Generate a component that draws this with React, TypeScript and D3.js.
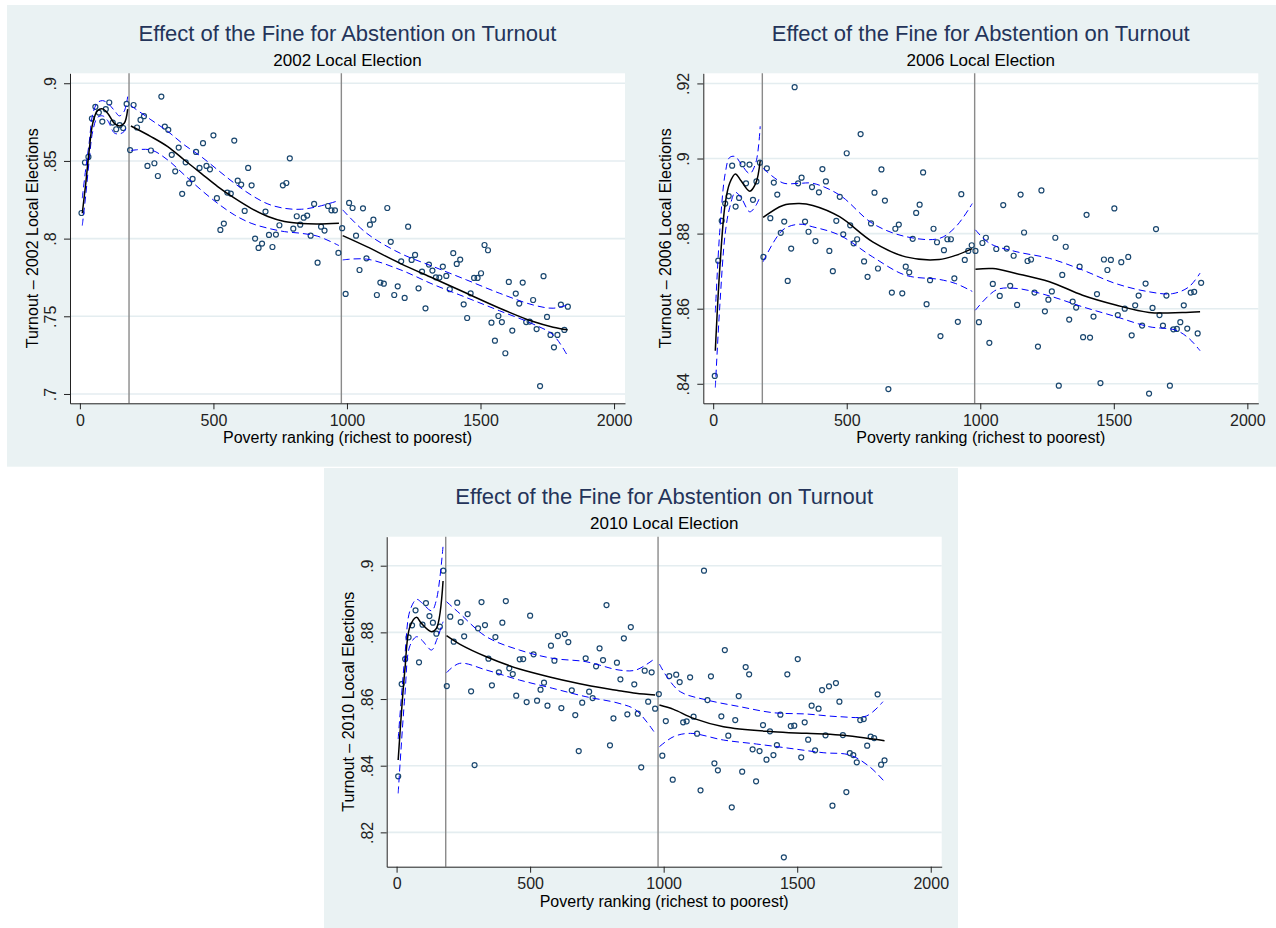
import { useEffect, useRef } from 'react';
import * as d3 from 'd3';

type Pt = [number, number];

const FONT = '"Liberation Sans", Arial, Helvetica, sans-serif';

// poverty-ranking bin centres (shared by the three elections)
const bins = [
  6, 19, 32, 45, 58, 71, 84, 97, 110, 123, 136, 149, 162, 175,
  188, 201, 214, 227, 240, 253, 266, 279, 292, 305, 318, 331, 344, 357, 370, 383,
  396, 409, 422, 435, 448, 461, 474, 487, 500, 513, 526, 539, 552, 565, 578, 591,
  604, 617, 630, 643, 656, 669, 682, 695, 708, 721, 734, 747, 760, 773, 786, 799,
  812, 825, 838, 851, 864, 877, 890, 903, 916, 929, 942, 955, 968,
  982, 995, 1008, 1021, 1034, 1047, 1060, 1073, 1086, 1099, 1112, 1125, 1138, 1151,
  1164, 1177, 1190, 1203, 1216, 1229, 1242, 1255, 1268, 1281, 1294, 1307, 1320, 1333,
  1346, 1359, 1372, 1385, 1398, 1411, 1424, 1437, 1450, 1463, 1476, 1489, 1502, 1515,
  1528, 1541, 1554, 1567, 1580, 1593, 1606, 1619, 1632, 1645, 1658, 1671, 1684, 1697,
  1710, 1723, 1736, 1749, 1762, 1775, 1788, 1801, 1814, 1827
];

const cutoffs = [184, 979];
const xTicks = [0, 500, 1000, 1500, 2000];

const turnout2002 = [
  .8165, .849, .8526, .8773, .8848, .8811, .8753, .8833, .8876, .8747, .8704, .873, .8712, .8867,
  .857, .886, .8715, .8764, .8788, .8468, .8567, .8485, .8403, .8914, .8721, .870, .8539, .8433,
  .8586, .8288, .8491, .8356, .8384, .8558, .8455, .8614, .8468, .8446, .8665, .826, .8056, .8097,
  .8296, .829, .8631, .8373, .8348, .8178, .8455, .8343, .800, .794, .7968, .8174, .8024, .7946,
  .8026, .8086, .8343, .8358, .8517, .8064, .8144, .809, .8135, .8148, .8019, .8223, .7845, .8077,
  .8052, .821, .8182, .8182, .7908,
  .8067, .7644, .823, .8197, .8019, .7798, .8195, .7873, .809, .8122, .7637, .7717, .771, .8197,
  .7979, .7637, .7693, .7854, .7618, .8077, .7863, .7895, .768, .7788, .7551, .7833, .7794, .7751,
  .7749, .782, .776, .7674, .7906, .7837, .7865, .7577, .7489, .7648, .7747, .7747, .7777, .7959,
  .7925, .7459, .7343, .7502, .7463, .7262, .7721, .7408, .7646, .7582, .7717, .7463, .7466, .7605,
  .7418, .7051, .7758, .7496, .738, .730, .738, .7575, .7412, .7562
];

const turnout2006 = [
  .8421, .8728, .8834, .888, .89, .8981, .8872, .8895, .8985, .8934, .8984, .889, .8939, .8989,
  .8738, .8974, .8841, .8936, .8904, .8802, .8832, .8674, .876, .919, .8934, .8949, .8832, .8805,
  .8924, .878, .891, .8972, .8939, .8754, .870, .8834, .8898, .8798, .9014, .8822, .8774, .8785,
  .9065, .8726, .8685, .8827, .8909, .8707, .8971, .8888, .8386, .8643, .8813, .8824, .8641, .8712,
  .8697, .8786, .8855, .8877, .8963, .8612, .8676, .8813, .8777, .8527, .8756, .8785, .8785, .8681,
  .8565, .8905, .873, .8754, .8769,
  .8754, .8564, .8775, .8789, .8509, .8666, .8759, .8634, .8876, .876, .8661, .8741, .861, .8904,
  .8803, .8727, .8731, .8643, .8499, .8915, .8593, .8624, .8646, .8789, .8395, .869, .8765, .8571,
  .8619, .8603, .8712, .8524, .885, .8523, .8579, .8639, .8402, .8731, .8703, .873, .8867, .8583,
  .8724, .860, .8738, .8529, .8609, .8635, .8555, .8667, .8374, .8602, .8812, .8583, .8555, .8635,
  .8395, .8545, .8546, .8564, .8609, .8547, .8643, .8645, .8534, .8669
];

const turnout2010 = [
  .8368, .8645, .872, .8785, .8821, .8866, .871, .8823, .8888, .8849, .8829, .8796, .8817, .8985,
  .8639, .8847, .8772, .8889, .8831, .8788, .8855, .8623, .8402, .8812, .8891, .8822, .8721, .8641,
  .8786, .868, .8829, .8894, .8692, .8675, .861, .8719, .872, .8591, .885, .8734, .8595, .8628,
  .8649, .858, .876, .8715, .8789, .8573, .8795, .8771, .8626, .8552, .8444, .8589, .8722, .8622,
  .8603, .8698, .8752, .8717, .8882, .8461, .8542, .8709, .8659, .8782, .8554, .8816, .8644, .8556,
  .8395, .8685, .8592, .868, .8571,
  .8615, .843, .8534, .8669, .8358, .8673, .8651, .853, .8533, .8665, .8547, .8496, .8326, .8985,
  .8597, .8668, .8407, .8386, .8548, .8747, .849, .8275, .8537, .8609, .8382, .8696, .8674, .8449,
  .8353, .8444, .8522, .8418, .8503, .8432, .8462, .8553, .8125, .8674, .8519, .852, .872, .8425,
  .853, .8478, .858, .8446, .8571, .8627, .8491, .8638, .828, .8648, .8592, .8492, .8321, .8438,
  .8432, .841, .8537, .854, .846, .8487, .8483, .8614, .8403, .8416
];

// local polynomial fits and 95% bands, one piece per side of each cutoff
const fit2002Left: Pt[] = [[9, .8163], [22, .8356], [35, .857], [48, .8742], [66, .8824], [85, .8835], [104, .8807], [129, .8742], [148, .8725], [166, .8742], [179, .8833]];
const lo2002Left: Pt[] = [[9, .8084], [22, .828], [35, .8506], [48, .869], [66, .878], [85, .879], [104, .876], [129, .868], [148, .8674], [166, .869], [179, .8732]];
const hi2002Left: Pt[] = [[9, .826], [22, .845], [35, .862], [48, .880], [66, .8875], [85, .8888], [104, .8872], [129, .8825], [148, .879], [166, .882], [179, .8914]];
const fit2002Mid: Pt[] = [[191, .8725], [266, .8657], [329, .8592], [391, .8506], [454, .842], [516, .8335], [579, .826], [641, .8195], [704, .8142], [766, .811], [829, .8097], [891, .8094], [970, .8099]];
const hi2002Mid: Pt[] = [[191, .8855], [266, .8765], [329, .869], [391, .8603], [454, .8528], [516, .8442], [579, .8356], [641, .8281], [704, .8223], [766, .8195], [829, .8189], [891, .8206], [970, .8245]];
const lo2002Mid: Pt[] = [[191, .8567], [266, .8571], [329, .8506], [391, .841], [454, .8313], [516, .8227], [579, .8152], [641, .8099], [704, .8067], [766, .8045], [829, .8034], [891, .8015], [970, .7955]];
const fit2002Right: Pt[] = [[984, .8019], [1074, .7948], [1199, .7841], [1323, .7745], [1448, .7648], [1572, .7552], [1697, .7466], [1772, .743], [1826, .7413]];
const hi2002Right: Pt[] = [[984, .8185], [1074, .8034], [1199, .7906], [1323, .782], [1448, .7734], [1572, .7648], [1697, .7573], [1772, .7552], [1826, .7573]];
const lo2002Right: Pt[] = [[984, .7863], [1074, .7868], [1199, .780], [1323, .7705], [1448, .762], [1572, .7535], [1697, .745], [1772, .738], [1826, .7245]];

const fit2006Left: Pt[] = [[8, .8488], [25, .871], [45, .888], [62, .8935], [83, .8959], [105, .894], [137, .8913], [160, .8935], [176, .8994]];
const hi2006Left: Pt[] = [[8, .859], [25, .881], [45, .896], [62, .9003], [83, .9005], [105, .8985], [137, .896], [160, .899], [176, .9086]];
const lo2006Left: Pt[] = [[8, .839], [25, .861], [45, .880], [62, .887], [83, .891], [105, .8895], [137, .8858], [160, .8875], [176, .890]];
const fit2006Mid: Pt[] = [[187, .8843], [261, .8875], [323, .888], [373, .8875], [473, .8845], [597, .8778], [721, .8738], [846, .8731], [908, .8742], [970, .876]];
const hi2006Mid: Pt[] = [[187, .8974], [261, .8935], [323, .8934], [373, .8934], [473, .8903], [597, .8827], [721, .8792], [846, .8787], [908, .8818], [970, .888]];
const lo2006Mid: Pt[] = [[187, .8725], [261, .881], [323, .8825], [373, .8818], [473, .8796], [597, .8738], [721, .8689], [846, .8678], [908, .8667], [970, .8646]];
const fit2006Right: Pt[] = [[982, .8705], [1047, .8707], [1134, .8694], [1259, .8672], [1383, .8636], [1507, .861], [1632, .859], [1756, .859], [1823, .8592]];
const hi2006Right: Pt[] = [[982, .881], [1035, .8774], [1134, .8752], [1259, .8734], [1383, .8703], [1507, .8667], [1632, .8645], [1719, .864], [1781, .8658], [1823, .8695]];
const lo2006Right: Pt[] = [[982, .8596], [1060, .865], [1134, .8654], [1259, .8634], [1383, .8605], [1507, .8579], [1632, .8552], [1731, .8543], [1781, .8521], [1823, .8488]];

const fit2010Left: Pt[] = [[6, .8417], [31, .8687], [50, .8817], [75, .8845], [93, .8827], [131, .8802], [149, .8812], [174, .8954]];
const hi2010Left: Pt[] = [[6, .848], [31, .873], [50, .8865], [75, .8899], [93, .889], [131, .8865], [149, .8897], [174, .9059]];
const lo2010Left: Pt[] = [[6, .8317], [31, .861], [50, .876], [75, .8787], [93, .8778], [131, .8747], [149, .8775], [174, .8832]];
const fit2010Mid: Pt[] = [[187, .879], [236, .8765], [336, .8727], [460, .869], [585, .8664], [709, .8642], [833, .8625], [896, .8617], [968, .8612]];
const hi2010Mid: Pt[] = [[187, .8892], [236, .8857], [336, .8787], [460, .8747], [585, .8722], [709, .8712], [833, .8687], [896, .8687], [968, .8722]];
const lo2010Mid: Pt[] = [[187, .8679], [236, .8707], [336, .8687], [460, .8657], [585, .8632], [709, .8607], [833, .8587], [896, .8567], [968, .8497]];
const fit2010Right: Pt[] = [[984, .8582], [1037, .8569], [1112, .8542], [1224, .8517], [1410, .8502], [1535, .8497], [1659, .8492], [1827, .8475]];
const hi2010Right: Pt[] = [[984, .8705], [1012, .8667], [1062, .8622], [1162, .8597], [1286, .8577], [1410, .8559], [1535, .8555], [1659, .8547], [1759, .8549], [1821, .8592]];
const lo2010Right: Pt[] = [[984, .8457], [1037, .8487], [1100, .8497], [1224, .8477], [1348, .8465], [1473, .8452], [1597, .8439], [1697, .8432], [1771, .8397], [1827, .8352]];

const yTicks2002 = [.7, .75, .8, .85, .9];
const yLabels2002 = ['.7', '.75', '.8', '.85', '.9'];
const yTicks2006 = [.84, .86, .88, .9, .92];
const yLabels2006 = ['.84', '.86', '.88', '.9', '.92'];
const yTicks2010 = [.82, .84, .86, .88, .9];
const yLabels2010 = ['.82', '.84', '.86', '.88', '.9'];

const W = 555;
const H = 330;

const panels = [
  { year: '2002', turnout: turnout2002, yDomain: [.694, .9064], yTicks: yTicks2002, yLabels: yLabels2002,
    fits: [fit2002Left, fit2002Mid, fit2002Right], bands: [lo2002Left, hi2002Left, lo2002Mid, hi2002Mid, lo2002Right, hi2002Right],
    left: 70, top: 73.3 },
  { year: '2006', turnout: turnout2006, yDomain: [.8348, .9227], yTicks: yTicks2006, yLabels: yLabels2006,
    fits: [fit2006Left, fit2006Mid, fit2006Right], bands: [lo2006Left, hi2006Left, lo2006Mid, hi2006Mid, lo2006Right, hi2006Right],
    left: 703.3, top: 73.3 },
  { year: '2010', turnout: turnout2010, yDomain: [.8097, .9087], yTicks: yTicks2010, yLabels: yLabels2010,
    fits: [fit2010Left, fit2010Mid, fit2010Right], bands: [lo2010Left, hi2010Left, lo2010Mid, hi2010Mid, lo2010Right, hi2010Right],
    left: 386.7, top: 536.7 }
];

function Panel({ p }: { p: any }) {
  const xAxisRef = useRef<SVGGElement>(null);
  const yAxisRef = useRef<SVGGElement>(null);

  const x = d3.scaleLinear().domain([-37, 2041]).range([0, W]);
  const y = d3.scaleLinear().domain(p.yDomain).range([H, 0]);
  const line = d3.line<Pt>().x((d) => x(d[0])).y((d) => y(d[1])).curve(d3.curveCatmullRom.alpha(0.5));

  useEffect(() => {
    const gx = d3.select(xAxisRef.current);
    gx.call(d3.axisBottom(x).tickValues(xTicks).tickFormat(d3.format('d')).tickSize(6).tickSizeOuter(0).tickPadding(5));
    gx.attr('font-size', 16).attr('font-family', FONT).attr('color', '#222');

    const gy = d3.select(yAxisRef.current);
    gy.call(d3.axisLeft(y).tickValues(p.yTicks).tickFormat((_d, i) => p.yLabels[i]).tickSize(6).tickSizeOuter(0));
    gy.attr('font-size', 16).attr('font-family', FONT).attr('color', '#222');
    gy.selectAll('.tick text')
      .attr('transform', 'rotate(-90)')
      .attr('x', 0)
      .attr('y', -14)
      .attr('dy', null)
      .attr('text-anchor', 'middle');
  }, [p]);

  return (
    <g transform={`translate(${p.left},${p.top})`}>
      <rect x={0} y={0} width={W} height={H} fill="#ffffff" />
      {p.yTicks.map((t: number) => (
        <line key={t} x1={0} x2={W} y1={y(t)} y2={y(t)} stroke="#e4edf0" strokeWidth={1.6} />
      ))}
      {cutoffs.map((c) => (
        <line key={c} x1={x(c)} x2={x(c)} y1={0} y2={H} stroke="#8a8a8a" strokeWidth={1.4} />
      ))}
      {bins.map((b, i) => (
        <circle key={i} cx={x(b)} cy={y(p.turnout[i])} r={2.5} fill="none" stroke="#1a476f" strokeWidth={1.2} />
      ))}
      {p.bands.map((band: Pt[], i: number) => (
        <path key={i} d={line(band) || ''} fill="none" stroke="#0000ff" strokeWidth={1} strokeDasharray="7,4" />
      ))}
      {p.fits.map((f: Pt[], i: number) => (
        <path key={i} d={line(f) || ''} fill="none" stroke="#000000" strokeWidth={1.5} />
      ))}
      <g ref={xAxisRef} transform={`translate(0,${H})`} />
      <g ref={yAxisRef} />
      <text x={W / 2} y={-32.4} textAnchor="middle" fontFamily={FONT} fontSize={22} fill="#24345a">
        Effect of the Fine for Abstention on Turnout
      </text>
      <text x={W / 2} y={-7.6} textAnchor="middle" fontFamily={FONT} fontSize={17} fill="#000">
        {p.year} Local Election
      </text>
      <text x={W / 2} y={H + 40} textAnchor="middle" fontFamily={FONT} fontSize={16} fill="#000">
        Poverty ranking (richest to poorest)
      </text>
      <text transform={`translate(-32.5,${H / 2}) rotate(-90)`} textAnchor="middle" fontFamily={FONT} fontSize={16} fill="#000">
        {`Turnout \u2013 ${p.year} Local Elections`}
      </text>
    </g>
  );
}

export default function App() {
  return (
    <svg width={1276} height={928} style={{ position: 'absolute', left: 0, top: 0, background: '#ffffff' }}>
      <rect x={7} y={5} width={1269} height={461.7} fill="#eaf2f3" />
      <rect x={324} y={468} width={634} height={460} fill="#eaf2f3" />
      {panels.map((p) => (
        <Panel key={p.year} p={p} />
      ))}
    </svg>
  );
}
